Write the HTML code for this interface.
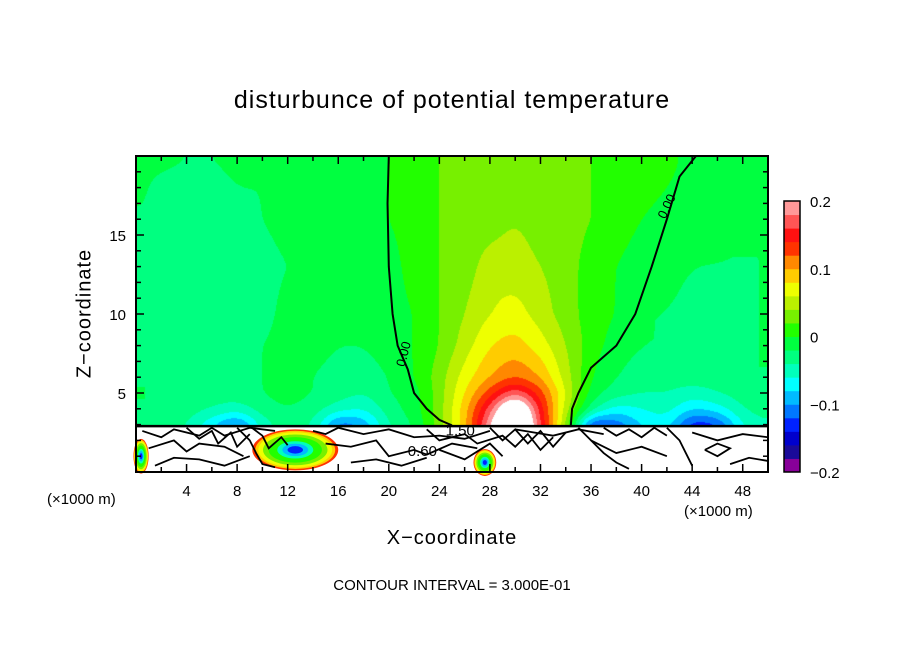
<!DOCTYPE html>
<html><head><meta charset="utf-8"><style>
body{margin:0;background:#fff;}
#wrap{position:relative;width:904px;height:654px;background:#fff;font-family:"Liberation Sans",sans-serif;}
.t{position:absolute;white-space:nowrap;color:#000;}
canvas{position:absolute;left:136px;top:156px;}
svg{position:absolute;left:0;top:0;}
</style></head><body>
<div id="wrap">
<div class="t" style="left:0;width:904px;text-align:center;top:86px;font-size:25px;letter-spacing:1px;">disturbunce of potential temperature</div>
<canvas id="cv" width="632" height="316"></canvas>
<svg id="sv" width="904" height="654"></svg>
<div class="t" style="left:0;width:904px;text-align:center;top:527px;font-size:20px;letter-spacing:1px;">X&minus;coordinate</div>
<div class="t" style="left:-15px;top:302px;font-size:20px;letter-spacing:1px;transform:rotate(-90deg);width:200px;text-align:center;">Z&minus;coordinate</div>
<div class="t" style="left:47px;top:491px;font-size:15px;">(&times;1000 m)</div>
<div class="t" style="left:684px;top:503px;font-size:15px;">(&times;1000 m)</div>
<div class="t" style="left:0;width:904px;text-align:center;top:577px;font-size:15px;">CONTOUR INTERVAL = 3.000E-01</div>
</div>
<script>
const xNodes=[0,2,4,6,8,10,12,14,16,18,20,22,24,26,28,30,32,34,36,38,40,42,44,46,48,50];
const zNodes=[2.9,4,5,6,8,10,13,16,18,20];
const r0=[-3,-3,-4,-8,-12,-5,-3,-4,-12,-10,-4,-2,3,9,20,32,16,4,-14,-12,-8,-7,-14,-13,-6,-4];
const r1=[-2,-2,-3,-4,-5,-3,-2,-3,-5,-6,-3,-1,3,9,17,27,15,5,-3,-7,-6,-5,-8,-7,-4,-3];
const r2=[-2,-2,-3,-3,-3,-2,-1,-2,-3,-4,-2,-1,3,8,13,18,13,6,-1,-3,-4,-4,-5,-4,-3,-2];
const r3=[-2,-2,-3,-3,-3,-2,-1,-2,-3,-3,-2,0,3,7,10,12,10,5,0,-2,-3,-3,-3,-3,-2,-2];
const r4=[-2,-3,-3,-3,-3,-2,-1,-1,-2,-2,-1,0,2,5,8,9,7,4,1,-1,-2,-2,-3,-3,-2,-2];
const r5=[-2,-3,-3,-3,-3,-3,-1,-1,-1,-1,-1,0,2,4,6,7,5,3,1,0,-2,-2,-3,-3,-2,-2];
const r6=[-2,-3,-3,-3,-3,-3,-2,-1,-1,-1,-1,1,2,3,5,5,4,3,1,0,-1,-1,-2,-2,-2,-2];
const r7=[-2,-3,-3,-3,-3,-2,-1,-1,-1,-1,0,1,2,3,3,4,3,3,2,1,0,-1,-1,-2,-2,-2];
const r8=[-1,-3,-3,-3,-2,-2,-1,-1,-1,-1,0,1,2,3,3,3,3,3,2,1,1,0,-1,-1,-1,-1];
const r9=[-1,-1,-2,-2,-1,-1,-1,-1,-1,-1,0,1,2,3,3,3,3,3,2,1,1,1,-1,-1,-1,-1];
const field=[r0,r1,r2,r3,r4,r5,r6,r7,r8,r9];
const levelColors=["#880099","#1a0a99","#0000cc","#0022ff","#0077ff","#00bbff","#00ffff","#00ffbb","#00ff80","#00ff40","#22ff00","#77f000","#bbf000","#eeff00","#ffcc00","#ff8800","#ff3300","#ff1111","#ff5555","#ff9999"];
const cbTicks=[0.2,0.1,0,-0.1,-0.2];
const cbLabels=["0.2","0.1","0","\u22120.1","\u22120.2"];
const xTickLabels=[4,8,12,16,20,24,28,32,36,40,44,48];
const yTickLabels=[5,10,15];
const zeroLeft=[[20,20],[19.9,17],[20,13],[20.3,10],[20.7,8],[21.5,6.5],[22,5],[23,4],[24,3.3],[25,2.95]];
const zeroRight=[[44.3,20],[43,18.7],[42,16],[40.8,13],[39.5,10],[38,8],[36,6.6],[35,5],[34.5,4],[34.4,2.95]];

const PL=136,PT=156,PW=632,PH=316,X0=0,X1=50,Z0=0,Z1=20;
const sx=x=>PL+(x-X0)/(X1-X0)*PW;
const sz=z=>PT+PH-(z-Z0)/(Z1-Z0)*PH;
function hex(c){return[parseInt(c.slice(1,3),16),parseInt(c.slice(3,5),16),parseInt(c.slice(5,7),16)];}
const rgb=levelColors.map(hex);
function colorOf(v){if(v>0.2||v<-0.2)return[255,255,255];let k=Math.floor((v+0.2)/0.02);k=Math.max(0,Math.min(19,k));return rgb[k];}
function idx(arr,v){for(let i=0;i<arr.length-1;i++){if(v<=arr[i+1])return i;}return arr.length-2;}
function interp(x,z){z=Math.max(z,2.9);const i=idx(xNodes,x),j=idx(zNodes,z);
 const tx=(x-xNodes[i])/(xNodes[i+1]-xNodes[i]),tz=(z-zNodes[j])/(zNodes[j+1]-zNodes[j]);
 const a=field[j][i],b=field[j][i+1],c=field[j+1][i],d=field[j+1][i+1];
 return ((a*(1-tx)+b*tx)*(1-tz)+(c*(1-tx)+d*tx)*tz)/100;}
const V=new Float32Array(PW*PH);
for(let py=0;py<PH;py++){const z=Z1-(py+0.5)/PH*(Z1-Z0);
 for(let px=0;px<PW;px++){const x=X0+(px+0.5)/PW*(X1-X0);V[py*PW+px]=interp(x,z);}}
function blur(src,R,horiz){const out=new Float32Array(src.length);
 for(let a=0;a<(horiz?PH:PW);a++){for(let b=0;b<(horiz?PW:PH);b++){let s=0,n=0;
  for(let k=-R;k<=R;k++){const bb=b+k;if(bb<0||bb>=(horiz?PW:PH))continue;s+=horiz?src[a*PW+bb]:src[bb*PW+a];n++;}
  if(horiz)out[a*PW+b]=s/n;else out[b*PW+a]=s/n;}}return out;}
let S=blur(V,10,true);S=blur(S,6,false);S=blur(S,6,true);S=blur(S,4,false);
const cv=document.getElementById('cv'),ctx=cv.getContext('2d');
const img=ctx.createImageData(PW,PH);
for(let py=0;py<PH;py++){const z=Z1-(py+0.5)/PH*(Z1-Z0);
 for(let px=0;px<PW;px++){let c=[255,255,255];
  if(z>=2.9)c=colorOf(S[py*PW+px]);
  const o=(py*PW+px)*4;img.data[o]=c[0];img.data[o+1]=c[1];img.data[o+2]=c[2];img.data[o+3]=255;}}
ctx.putImageData(img,0,0);

const NS='http://www.w3.org/2000/svg',sv=document.getElementById('sv');
function mk(tag,at,parent){const e=document.createElementNS(NS,tag);for(const k in at)e.setAttribute(k,at[k]);(parent||sv).appendChild(e);return e;}
const blobs=[[12.6,1.4,3.4,1.3],[27.6,0.6,0.9,0.85],[0.4,1.0,0.6,1.1]];
const ringCols=["#ff3300","#ffcc00","#eeff00","#77f000","#22ff00","#00ffbb","#00bbff","#0022ff"];
const ringF=[1,0.93,0.86,0.75,0.62,0.42,0.3,0.18];
blobs.forEach(b=>{ringCols.forEach((c,k)=>{const f=ringF[k];
 const e=mk('ellipse',{cx:sx(b[0]),cy:sz(b[1]),rx:b[2]*f*PW/50,ry:b[3]*f*PH/20,fill:c});
 
 });});
const sq=[[[0.5,2.6],[2,2.2],[3,2.7],[5,2.3],[6,2.8],[7,2.3],[9,2.8],[11,2.6]],
[[1,1.5],[3,2],[4,1.3],[5,1.8],[7,1.6],[8.5,1]],
[[4,2.8],[5,2.1],[6,2.6],[6.5,1.8],[7.5,2.5],[8,1.6],[9,2.4]],
[[8,2.8],[9,2.0],[9.5,1.2],[10,0.5],[11,0.3]],
[[9,2.9],[10,2.3],[10.5,1.5],[11.5,2.2],[12,1.7]],
[[14,2.6],[15,2.4],[16,2.8],[18,2.4],[20,2.7],[22,2.2],[24,2.3],[26,2.1],[28,2.6]],
[[15,1.8],[17,1.6],[19,2.0],[20,1],[22,1.4],[23,1.1],[25,1.8],[27,1.5]],
[[17,0.6],[19,0.8],[21,0.4],[23,0.9]],
[[23,2.7],[24,2.0],[26,2.4],[27,1.8],[29,2.3],[30,1.6],[31,2.4],[32,1.4],[33,2.2]],
[[28,2.8],[29,2.0],[30,2.7],[31,1.8],[32,2.6],[33,1.6],[34,2.5]],
[[30,2.7],[33,2.3],[35,2.7],[37,2.4]],
[[35,2.8],[36,2.0],[37,1.2],[38,0.6],[39,0.2]],
[[36,2],[38,1.2],[40,1.6],[42,1]],
[[37,2.8],[38,2.3],[39,2.7],[40,2.2],[41,2.8],[42,2.3]],
[[42,2.8],[43,2.0],[43.5,1.2],[44,0.4]],
[[44,2.5],[46,2],[48,2.4],[50,2.2]],
[[45,1.4],[46,1.0],[47,1.5],[46,1.8],[45,1.4]],
[[47,0.5],[48.5,0.9],[50,0.7]],
[[1.5,0.4],[3,0.9],[5,0.8],[7,0.4],[9,1]],
[[24,1.4],[26,0.8],[28,1.8],[29,1.0]]];
sq.forEach(p=>{const e=mk('polyline',{points:p.map(q=>sx(q[0])+','+sz(q[1])).join(' '),fill:'none',stroke:'#000','stroke-width':1.8});
 
 });
const bl=mk('line',{x1:PL,y1:sz(2.9),x2:PL+PW,y2:sz(2.9),stroke:'#000','stroke-width':2.5});


[zeroLeft,zeroRight].forEach(p=>{const e=mk('polyline',{points:p.map(q=>sx(q[0])+','+sz(q[1])).join(' '),fill:'none',stroke:'#000','stroke-width':2});
 
 });
[[21.5,7.4,-75],[42.3,16.7,-65]].forEach(l=>{const t=mk('text',{x:sx(l[0]),y:sz(l[1]),'font-size':13,'font-family':'Liberation Sans, sans-serif',transform:`rotate(${l[2]} ${sx(l[0])} ${sz(l[1])})`,'text-anchor':'middle',fill:'#000'});t.textContent='0.00';
 
 });
[[21.5,1.0,'0.60'],[24.5,2.3,'1.50']].forEach(l=>{const t=mk('text',{x:sx(l[0]),y:sz(l[1]),'font-size':15,'font-family':'Liberation Sans, sans-serif',fill:'#000'});t.textContent=l[2];
 
 });
const fr=mk('rect',{x:PL,y:PT,width:PW,height:PH,fill:'none',stroke:'#000','stroke-width':2});


for(let x=2;x<50;x+=2){const L=x%4===0?8:5;
 mk('line',{x1:sx(x),y1:PT+PH,x2:sx(x),y2:PT+PH-L,stroke:'#000','stroke-width':1.5});
 mk('line',{x1:sx(x),y1:PT,x2:sx(x),y2:PT+L,stroke:'#000','stroke-width':1.5});}
for(let z=1;z<20;z++){const L=z%5===0?8:5;
 mk('line',{x1:PL,y1:sz(z),x2:PL+L,y2:sz(z),stroke:'#000','stroke-width':1.5});
 mk('line',{x1:PL+PW,y1:sz(z),x2:PL+PW-L,y2:sz(z),stroke:'#000','stroke-width':1.5});}
xTickLabels.forEach(v=>{const t=mk('text',{x:sx(v),y:496,'font-size':15,'text-anchor':'middle','font-family':'Liberation Sans, sans-serif'});t.textContent=v;
 
 });
yTickLabels.forEach(v=>{const t=mk('text',{x:126,y:sz(v)+6,'font-size':15,'text-anchor':'end','font-family':'Liberation Sans, sans-serif'});t.textContent=v;
 
 });
const CBX=784,CBT=201,CBB=472,CBW=16;
const cy=v=>CBB-(v+0.2)/0.4*(CBB-CBT);
levelColors.forEach((c,k)=>{const v0=-0.2+k*0.02;const r=mk('rect',{x:CBX,y:cy(v0+0.02),width:CBW,height:cy(v0)-cy(v0+0.02)+0.5,fill:c});
 
 });
const cf=mk('rect',{x:CBX,y:CBT,width:CBW,height:CBB-CBT,fill:'none',stroke:'#000','stroke-width':1.5});


cbTicks.forEach((v,i)=>{const t=mk('text',{x:810,y:cy(v)+6,'font-size':15,'font-family':'Liberation Sans, sans-serif'});t.textContent=cbLabels[i];
 
 });
</script>
</body></html>
